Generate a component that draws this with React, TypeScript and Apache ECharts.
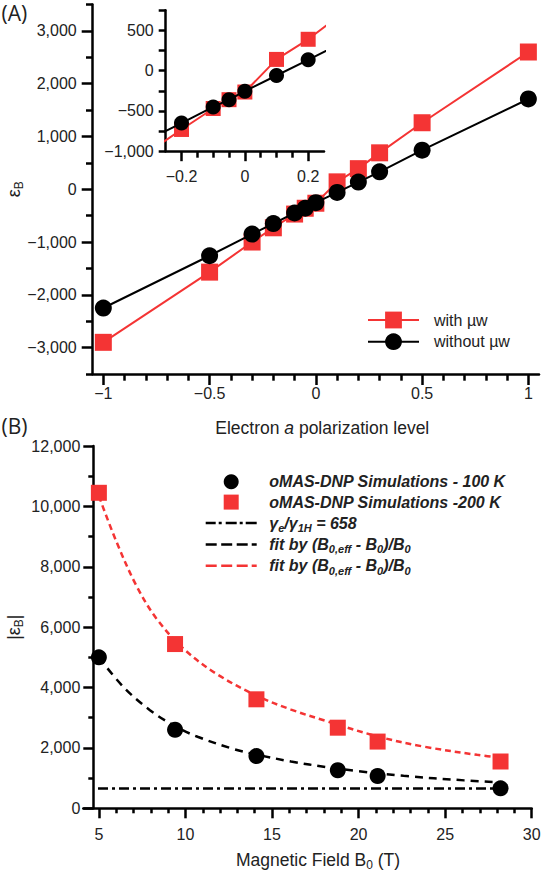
import React, { useEffect, useRef } from 'react';
import * as echarts from 'echarts';

// ---------- Panel A data ----------
const polX = [-1, -0.5, -0.3, -0.2, -0.1, -0.05, 0, 0.1, 0.2, 0.3, 0.5, 1];
const epsWithMw = [-2900, -1570, -1000, -730, -470, -360, -265, 140, 390, 690, 1260, 2600];
const epsWithoutMw = [-2250, -1260, -850, -650, -450, -360, -255, -60, 135, 330, 740, 1710];

const aXTicks = [-1, -0.5, 0, 0.5, 1];
const aXMinor = [-0.9, -0.8, -0.7, -0.6, -0.4, -0.3, -0.2, -0.1, 0.1, 0.2, 0.3, 0.4, 0.6, 0.7, 0.8, 0.9];
const aYTicks = [-3000, -2000, -1000, 0, 1000, 2000, 3000];
const aYMinor = [-3500, -2500, -1500, -500, 500, 1500, 2500, 3500];
const insetXTicks = [-0.2, 0, 0.2];
const insetXMinor = [-0.15, -0.1, -0.05, 0.05, 0.1, 0.15];

// ---------- Panel B data ----------
const fieldB = [5.0, 9.4, 14.1, 18.8, 21.1, 28.2];
const eps100K = [5000, 2600, 1730, 1260, 1070, 660];
const eps200K = [10450, 5440, 3610, 2670, 2210, 1550];
const gammaRatio = 658;
const gammaLineX = [4.95, 28.7];
const fitX100 = [5.0, 6.4, 7.95, 9.4, 10.7, 12.8, 14.1, 16.1, 18.2, 20.0, 22.6, 26.1, 28.2];
const fitY100 = [5000, 4030, 3250, 2720, 2370, 1960, 1780, 1550, 1360, 1230, 1075, 925, 860];
const fitX200 = [5.0, 6.0, 7.16, 8.33, 9.9, 11.8, 14.15, 16.1, 18.2, 21.1, 23.8, 26.85, 28.4];
const fitY200 = [10340, 8850, 7380, 6280, 5280, 4450, 3720, 3270, 2880, 2380, 2040, 1770, 1660];

const bXTicks = [5, 10, 15, 20, 25, 30];
const bXMinor = [6, 7, 8, 9, 11, 12, 13, 14, 16, 17, 18, 19, 21, 22, 23, 24, 26, 27, 28, 29];

const withName = 'with µw';
const withoutName = 'without µw';
const n100 = 'oMAS-DNP Simulations - 100 K';
const n200 = 'oMAS-DNP Simulations -200 K';
const gammaName = 'γe/γ1H = 658';
const fit100Name = 'fit by (B0,eff - B0)/B0';
const fit200Name = 'fit by (B0,eff - B0)/B0\u200b';

const RED = '#f43434';
const INK = '#222';
const FONT = '"Liberation Sans", Arial, Helvetica, sans-serif';

const fmtNum = (v: number) => (v < 0 ? '\u2212' : '') + Math.abs(v).toLocaleString('en-US');
const pairs = (xs: number[], ys: number[]) => xs.map((x, i) => [x, ys[i]]);

const lineAx = { show: true, onZero: false, lineStyle: { color: '#000', width: 2.5 } };
const tickStyle = { color: '#000', width: 2.5 };
const lbl = { fontSize: 16, color: INK, fontFamily: FONT };

const legendLabels: Record<string, string> = {
  [n100]: '{b|' + n100 + '}',
  [n200]: '{b|' + n200 + '}',
  [gammaName]: '{b|γ}{s|e}{b|/γ}{s|1H}{b| = 658}',
  [fit100Name]: '{b|fit by (B}{s|0,eff}{b| - B}{s|0}{b|)/B}{s|0}',
  [fit200Name]: '{b|fit by (B}{s|0,eff}{b| - B}{s|0}{b|)/B}{s|0}',
};

const dashDotIcon = 'path://M0,0H10V2.5H0Z M13,0H16V2.5H13Z M20,0H31V2.5H20Z M34,0H37V2.5H34Z M40,0H51V2.5H40Z';
const dashIcon = 'path://M0,0H11V2.5H0Z M15.5,0H26.5V2.5H15.5Z M31,0H42V2.5H31Z M46,0H51V2.5H46Z';
const squareIcon = 'path://M0,0H10V10H0Z';

function minorAxis(gridIndex: number, position: string, min: number, max: number, values: number[], length: number) {
  return {
    type: 'value', gridIndex, position, min, max,
    axisLine: { show: false, onZero: false },
    axisTick: { show: true, customValues: values, length, lineStyle: tickStyle },
    axisLabel: { show: false },
    splitLine: { show: false },
  };
}

const subName = { fontSize: 12, fontFamily: FONT, color: INK, lineHeight: 12, padding: [10, 0, 0, 0] };

const option: any = {
  animation: false,
  backgroundColor: '#fff',
  textStyle: { fontFamily: FONT },
  grid: [
    { left: 92.7, top: 4.5, width: 446.3, height: 369.5, containLabel: false, outerBoundsMode: 'none' },
    { left: 165.7, top: 10.3, width: 158.3, height: 140.9, containLabel: false, outerBoundsMode: 'none' },
    { left: 83.3, top: 446, width: 448.4, height: 362.3, containLabel: false, outerBoundsMode: 'none' },
  ],
  xAxis: [
    {
      type: 'value', gridIndex: 0, position: 'bottom', min: -1.05, max: 1.05,
      axisLine: lineAx,
      axisTick: { show: true, customValues: aXTicks, length: 11, lineStyle: tickStyle },
      axisLabel: { ...lbl, customValues: aXTicks, formatter: fmtNum, margin: 11 },
      splitLine: { show: false },
      name: 'Electron {i|a} polarization level',
      nameLocation: 'middle', nameGap: 43.4, nameMoveOverlap: false,
      nameTextStyle: {
        fontSize: 17.5, color: INK, fontFamily: FONT, lineHeight: 22, padding: [0, 0, 0, 12.8],
        rich: { i: { fontSize: 17.5, fontStyle: 'italic', color: INK, fontFamily: FONT, lineHeight: 22 } },
      },
    },
    minorAxis(0, 'bottom', -1.05, 1.05, aXMinor, 6.7),
    {
      type: 'value', gridIndex: 1, position: 'bottom', min: -0.25, max: 0.25,
      axisLine: lineAx,
      axisTick: { show: true, customValues: insetXTicks, length: 10, lineStyle: tickStyle },
      axisLabel: { ...lbl, customValues: insetXTicks, formatter: fmtNum, margin: 17 },
      splitLine: { show: false },
    },
    minorAxis(1, 'bottom', -0.25, 0.25, insetXMinor, 6.5),
    {
      type: 'value', gridIndex: 2, position: 'bottom', min: 4.1, max: 30,
      axisLine: lineAx,
      axisTick: { show: true, customValues: bXTicks, length: 10, lineStyle: tickStyle },
      axisLabel: { ...lbl, customValues: bXTicks, margin: 18 },
      splitLine: { show: false },
      name: 'Magnetic Field B{s|0} (T)',
      nameLocation: 'middle', nameGap: 40.7, nameMoveOverlap: false,
      nameTextStyle: {
        fontSize: 17.5, color: INK, fontFamily: FONT, lineHeight: 22, padding: [0, 0, 0, 21],
        rich: { s: subName },
      },
    },
    minorAxis(2, 'bottom', 4.1, 30, bXMinor, 5),
  ],
  yAxis: [
    {
      type: 'value', gridIndex: 0, position: 'left', min: -3500, max: 3500,
      axisLine: lineAx,
      axisTick: { show: true, customValues: aYTicks, length: 11, lineStyle: tickStyle },
      axisLabel: { ...lbl, customValues: aYTicks, formatter: fmtNum, margin: 16 },
      splitLine: { show: false },
      name: '{e|ε}{s|B}',
      nameLocation: 'middle', nameGap: 68, nameMoveOverlap: false,
      nameTextStyle: {
        fontSize: 18, color: INK, fontFamily: FONT, lineHeight: 22,
        rich: { e: { fontSize: 18, color: INK, fontFamily: FONT, lineHeight: 22 }, s: subName },
      },
    },
    minorAxis(0, 'left', -3500, 3500, aYMinor, 6.7),
    {
      type: 'value', gridIndex: 1, position: 'left', min: -1000, max: 750, interval: 250,
      axisLine: lineAx,
      axisTick: { show: true, length: 7, lineStyle: tickStyle },
      axisLabel: { ...lbl, margin: 12, formatter: (v: number) => (v % 500 === 0 ? fmtNum(v) : '') },
      splitLine: { show: false },
    },
    {
      type: 'value', gridIndex: 2, position: 'left', min: 0, max: 12000, interval: 2000, offset: -10,
      axisLine: lineAx,
      axisTick: { show: true, length: 10, lineStyle: tickStyle },
      minorTick: { show: true, splitNumber: 2, length: 5, lineStyle: tickStyle },
      axisLabel: { ...lbl, margin: 13, formatter: fmtNum },
      splitLine: { show: false },
      minorSplitLine: { show: false },
      name: '{e||ε}{s|B}{e||}',
      nameLocation: 'middle', nameGap: 68, nameMoveOverlap: false,
      nameTextStyle: {
        fontSize: 18, color: INK, fontFamily: FONT, lineHeight: 22,
        rich: { e: { fontSize: 18, color: INK, fontFamily: FONT, lineHeight: 22 }, s: subName },
      },
    },
  ],
  legend: [
    {
      data: [withName, withoutName],
      orient: 'vertical', left: 367, top: 309.5, padding: 0,
      itemWidth: 51, itemHeight: 21, itemGap: 0.7, selectedMode: false,
      textStyle: { fontSize: 16, color: INK, fontFamily: FONT, lineHeight: 21, padding: [0, 0, 0, 10] },
    },
    {
      data: [
        { name: n100, icon: 'circle' },
        { name: n200, icon: squareIcon },
        { name: gammaName, icon: dashDotIcon },
        { name: fit100Name, icon: dashIcon },
        { name: fit200Name, icon: dashIcon },
      ],
      orient: 'vertical', left: 205.7, top: 471.7, padding: 0,
      itemWidth: 51, itemHeight: 15, itemGap: 0.4, selectedMode: false,
      itemStyle: { opacity: 1 },
      formatter: (name: string) => legendLabels[name] || name,
      textStyle: {
        fontSize: 16, color: INK, fontFamily: FONT, lineHeight: 20, padding: [0, 0, 0, 7.6],
        rich: {
          b: { fontSize: 16, fontWeight: 'bold', fontStyle: 'italic', fontFamily: FONT, color: INK, lineHeight: 20 },
          s: { fontSize: 11, fontWeight: 'bold', fontStyle: 'italic', fontFamily: FONT, color: INK, lineHeight: 10, padding: [10, 0, 0, 0] },
        },
      },
    },
  ],
  graphic: [
    { type: 'text', x: 1.5, y: 13, style: { text: '(A)', font: '21px "Open Sans", "Noto Sans", sans-serif', fill: INK, align: 'left', verticalAlign: 'middle' } },
    { type: 'text', x: 1.5, y: 426, style: { text: '(B)', font: '21px "Open Sans", "Noto Sans", sans-serif', fill: INK, align: 'left', verticalAlign: 'middle' } },
  ],
  series: [
    // Panel A main
    {
      name: withName, type: 'line', xAxisIndex: 0, yAxisIndex: 0, data: pairs(polX, epsWithMw),
      symbol: 'rect', symbolSize: 17, lineStyle: { color: RED, width: 2 }, itemStyle: { color: RED, opacity: 1 }, z: 2,
    },
    {
      name: withoutName, type: 'line', xAxisIndex: 0, yAxisIndex: 0, data: pairs(polX, epsWithoutMw),
      symbol: 'circle', symbolSize: 17, lineStyle: { color: '#000', width: 2 }, itemStyle: { color: '#000', opacity: 1 }, z: 3,
    },
    // Panel A inset
    {
      name: withName, type: 'line', xAxisIndex: 2, yAxisIndex: 2, data: pairs(polX, epsWithMw), clip: true,
      symbol: 'rect', symbolSize: 15, lineStyle: { color: RED, width: 2 }, itemStyle: { color: RED, opacity: 1 }, z: 2,
    },
    {
      name: withoutName, type: 'line', xAxisIndex: 2, yAxisIndex: 2, data: pairs(polX, epsWithoutMw), clip: true,
      symbol: 'circle', symbolSize: 15, lineStyle: { color: '#000', width: 2 }, itemStyle: { color: '#000', opacity: 1 }, z: 3,
    },
    // Panel B
    {
      name: gammaName, type: 'line', xAxisIndex: 4, yAxisIndex: 3,
      data: gammaLineX.map((x) => [x, gammaRatio]), symbol: 'none',
      lineStyle: { color: '#000', width: 2.5, type: [10, 4, 3, 4] }, itemStyle: { color: '#000' }, z: 2,
    },
    {
      name: fit100Name, type: 'line', xAxisIndex: 4, yAxisIndex: 3, data: pairs(fitX100, fitY100),
      symbol: 'none', smooth: 0.35,
      lineStyle: { color: '#000', width: 2.5, type: [8, 6] }, itemStyle: { color: '#000' }, z: 2,
    },
    {
      name: fit200Name, type: 'line', xAxisIndex: 4, yAxisIndex: 3, data: pairs(fitX200, fitY200),
      symbol: 'none', smooth: 0.35,
      lineStyle: { color: RED, width: 2.5, type: [6, 4] }, itemStyle: { color: RED }, z: 2,
    },
    {
      name: n100, type: 'scatter', xAxisIndex: 4, yAxisIndex: 3, data: pairs(fieldB, eps100K),
      symbol: 'circle', symbolSize: 16, itemStyle: { color: '#000', opacity: 1 }, z: 5,
    },
    {
      name: n200, type: 'scatter', xAxisIndex: 4, yAxisIndex: 3, data: pairs(fieldB, eps200K),
      symbol: 'rect', symbolSize: 16, itemStyle: { color: RED, opacity: 1 }, z: 5,
    },
  ],
};

export default function App() {
  const ref = useRef<HTMLDivElement>(null);
  useEffect(() => {
    if (!ref.current) return;
    const chart = echarts.init(ref.current, null, { renderer: 'svg' });
    chart.setOption(option);
    return () => chart.dispose();
  }, []);
  return (
    <div
      ref={ref}
      style={{ position: 'absolute', left: 0, top: 0, width: 542, height: 871, background: '#fff' }}
    />
  );
}
